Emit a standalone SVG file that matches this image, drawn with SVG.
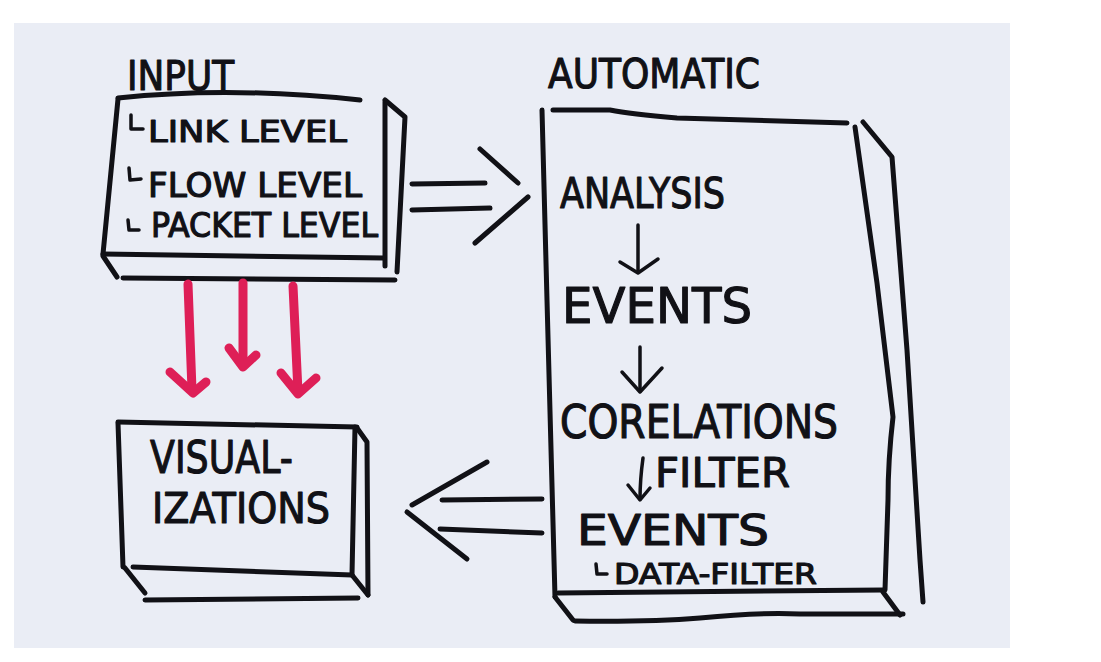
<svg xmlns="http://www.w3.org/2000/svg" width="1101" height="662" viewBox="0 0 1101 662">
<style>
.ln{fill:none;stroke:#111116;stroke-width:5;stroke-linecap:round;stroke-linejoin:round}
.thin{fill:none;stroke:#111116;stroke-width:3.5;stroke-linecap:round;stroke-linejoin:round}
.red{fill:none;stroke:#de1f57;stroke-width:9;stroke-linecap:round;stroke-linejoin:round}
.t{font-family:"DejaVu Sans","Liberation Sans",sans-serif;fill:#111116;stroke:#111116;stroke-width:1.2;stroke-linejoin:round}
</style>
<rect x="0" y="0" width="1101" height="662" fill="#ffffff"/>
<rect x="14" y="23" width="996" height="625" fill="#eaedf5"/>

<g id="input">
<text class="t" x="127" y="90" font-size="41" textLength="107" lengthAdjust="spacingAndGlyphs">INPUT</text>
<path class="ln" d="M118,98 Q230,86 360,100"/>
<path class="ln" d="M118,99 L103,254"/>
<path class="ln" d="M103,254 L383,258"/>
<path class="ln" d="M385,102 L385,266"/>
<path class="ln" d="M385,100 L405,117 L397,272"/>
<path class="ln" d="M103,256 L117,277"/>
<path class="ln" d="M123,278 L395,280"/>
<path class="thin" d="M131,115 L131,129 L143,129"/>
<path class="thin" d="M129,168 L130,180 L141,179"/>
<path class="thin" d="M128,220 L129,230 L139,230"/>
<text class="t" x="148" y="142" font-size="30" textLength="199" lengthAdjust="spacingAndGlyphs">LINK LEVEL</text>
<text class="t" x="148" y="197" font-size="33" textLength="214" lengthAdjust="spacingAndGlyphs">FLOW LEVEL</text>
<text class="t" x="151" y="237" font-size="33" textLength="227" lengthAdjust="spacingAndGlyphs">PACKET LEVEL</text>
</g>

<g id="visualizations">
<path class="ln" d="M118,422 L357,427"/>
<path class="ln" d="M118,423 L123,567"/>
<path class="ln" d="M355,427 L352,575"/>
<path class="ln" d="M357,428 L367,442 L368,595"/>
<path class="ln" d="M133,567 L352,575"/>
<path class="ln" d="M125,568 L145,593"/>
<path class="ln" d="M352,575 L368,595"/>
<path class="ln" d="M145,600 L358,598"/>
<text class="t" x="150" y="473" font-size="45" textLength="143" lengthAdjust="spacingAndGlyphs">VISUAL-</text>
<text class="t" x="152" y="523" font-size="43" textLength="178" lengthAdjust="spacingAndGlyphs">IZATIONS</text>
</g>

<g id="automatic">
<text class="t" x="548" y="88" font-size="40" textLength="212" lengthAdjust="spacingAndGlyphs">AUTOMATIC</text>
<path class="ln" d="M542,110 L547,300 L555,597"/>
<path class="ln" d="M553,110 L610,110 Q630,114 677,118 L847,123"/>
<path class="ln" d="M855,127 L877,283 L893,417 Q888,460 888,500 L885,590"/>
<path class="ln" d="M863,122 L892,157 L907,350 L920,560 L923,602"/>
<path class="ln" d="M558,593 L883,590"/>
<path class="ln" d="M555,597 L573,620"/>
<path class="ln" d="M883,592 L900,615"/>
<path class="ln" d="M575,621 Q650,622 700,618 Q760,612 800,614 L903,614"/>
<text class="t" x="560" y="208" font-size="42" textLength="165" lengthAdjust="spacingAndGlyphs">ANALYSIS</text>
<text class="t" x="562" y="323" font-size="49" textLength="190" lengthAdjust="spacingAndGlyphs">EVENTS</text>
<text class="t" x="560" y="438" font-size="46" textLength="278" lengthAdjust="spacingAndGlyphs">CORELATIONS</text>
<text class="t" x="655" y="487" font-size="41" textLength="135" lengthAdjust="spacingAndGlyphs">FILTER</text>
<text class="t" x="577" y="545" font-size="42" textLength="192" lengthAdjust="spacingAndGlyphs">EVENTS</text>
<path class="thin" d="M596,564 L597,574 L607,574"/>
<text class="t" x="614" y="584" font-size="29" textLength="203" lengthAdjust="spacingAndGlyphs">DATA-FILTER</text>
</g>

<g id="connectors">
<path class="ln" d="M412,184 L485,183"/>
<path class="ln" d="M412,210 L490,208"/>
<path class="ln" d="M480,149 L518,183"/>
<path class="ln" d="M528,197 L475,243"/>
<path class="ln" d="M487,462 L412,505"/>
<path class="ln" d="M407,512 L467,559"/>
<path class="ln" d="M442,500 L542,499"/>
<path class="ln" d="M440,529 L542,533"/>
<path class="red" d="M188,284 L192,390"/>
<path class="red" d="M170,372 L193,393 L206,382"/>
<path class="red" d="M243,283 L243,365"/>
<path class="red" d="M229,348 L243,367 L256,355"/>
<path class="red" d="M293,286 L298,392"/>
<path class="red" d="M281,373 L298,394 L316,378"/>
<path class="thin" d="M638,225 L638,272"/>
<path class="thin" d="M620,262 L638,273 L658,259"/>
<path class="thin" d="M640,347 L640,391"/>
<path class="thin" d="M622,372 L640,392 L662,368"/>
<path class="thin" d="M643,458 Q640,480 640,499"/>
<path class="thin" d="M628,485 L640,500 L650,488"/>
</g>
</svg>
